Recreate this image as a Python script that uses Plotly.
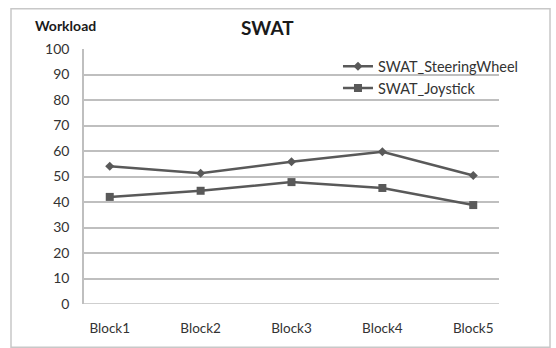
import plotly.graph_objects as go

blocks = ["Block1", "Block2", "Block3", "Block4", "Block5"]
steering_wheel = [54.0, 51.3, 55.8, 59.7, 50.4]
joystick = [42.0, 44.4, 47.8, 45.5, 38.8]
y_ticks = [0, 10, 20, 30, 40, 50, 60, 70, 80, 90, 100]

line_color = "#595959"
grid_color = "#bfbfbf"
font_family = "Lato, 'Open Sans', sans-serif"

fig = go.Figure()
fig.add_trace(go.Scatter(
    x=blocks, y=steering_wheel, name="SWAT_SteeringWheel",
    mode="lines+markers",
    line=dict(color=line_color, width=2.5),
    marker=dict(symbol="diamond", size=7, color=line_color),
))
fig.add_trace(go.Scatter(
    x=blocks, y=joystick, name="SWAT_Joystick",
    mode="lines+markers",
    line=dict(color=line_color, width=2.5),
    marker=dict(symbol="square", size=8, color=line_color),
))

fig.update_layout(
    width=556, height=348,
    margin=dict(l=84, r=57, t=49, b=33),
    paper_bgcolor="white", plot_bgcolor="white",
    font=dict(family=font_family, size=13, color="#333333"),
    showlegend=True,
    legend=dict(
        x=0.612, y=0.995, xanchor="left", yanchor="top",
        bgcolor="rgba(0,0,0,0)", borderwidth=0,
        font=dict(size=14.5, color="#333333"),
        itemwidth=30, tracegroupgap=0,
    ),
    annotations=[
        dict(text="<b>SWAT</b>", xref="paper", yref="paper",
             x=(267 - 84) / 415, y=(315 - 27) / 266, xanchor="center", yanchor="middle",
             showarrow=False, font=dict(size=19, color="#1a1a1a")),
        dict(text="<b>Workload</b>", xref="paper", yref="paper",
             x=(33 - 84) / 415, y=(315 - 24) / 266, xanchor="left", yanchor="middle",
             showarrow=False, font=dict(size=14, color="#1a1a1a")),
    ],
    shapes=[
        dict(type="rect", xref="paper", yref="paper",
             x0=(11 - 84) / 415, x1=(550 - 84) / 415,
             y0=(315 - 360) / 266, y1=(315 - 7) / 266,
             line=dict(color="#c8c8c8", width=1.5), fillcolor="rgba(0,0,0,0)",
             layer="below"),
    ],
)

fig.update_xaxes(
    type="category", showgrid=False, zeroline=False,
    showline=False, ticks="", ticklabelstandoff=14,
    tickfont=dict(size=13.5, color="#333333"),
)
fig.update_yaxes(
    range=[0, 100], tickvals=y_ticks, showgrid=True, gridcolor=grid_color,
    gridwidth=1.5, zeroline=False, showline=True, linecolor=grid_color,
    linewidth=1.5, ticks="", ticklabelstandoff=10,
    tickfont=dict(size=14, color="#333333"),
)
# horizontal baseline at zero drawn as a gridline-coloured line
fig.add_hline(y=0, line=dict(color=grid_color, width=1.5))

fig.write_html("out.html")
